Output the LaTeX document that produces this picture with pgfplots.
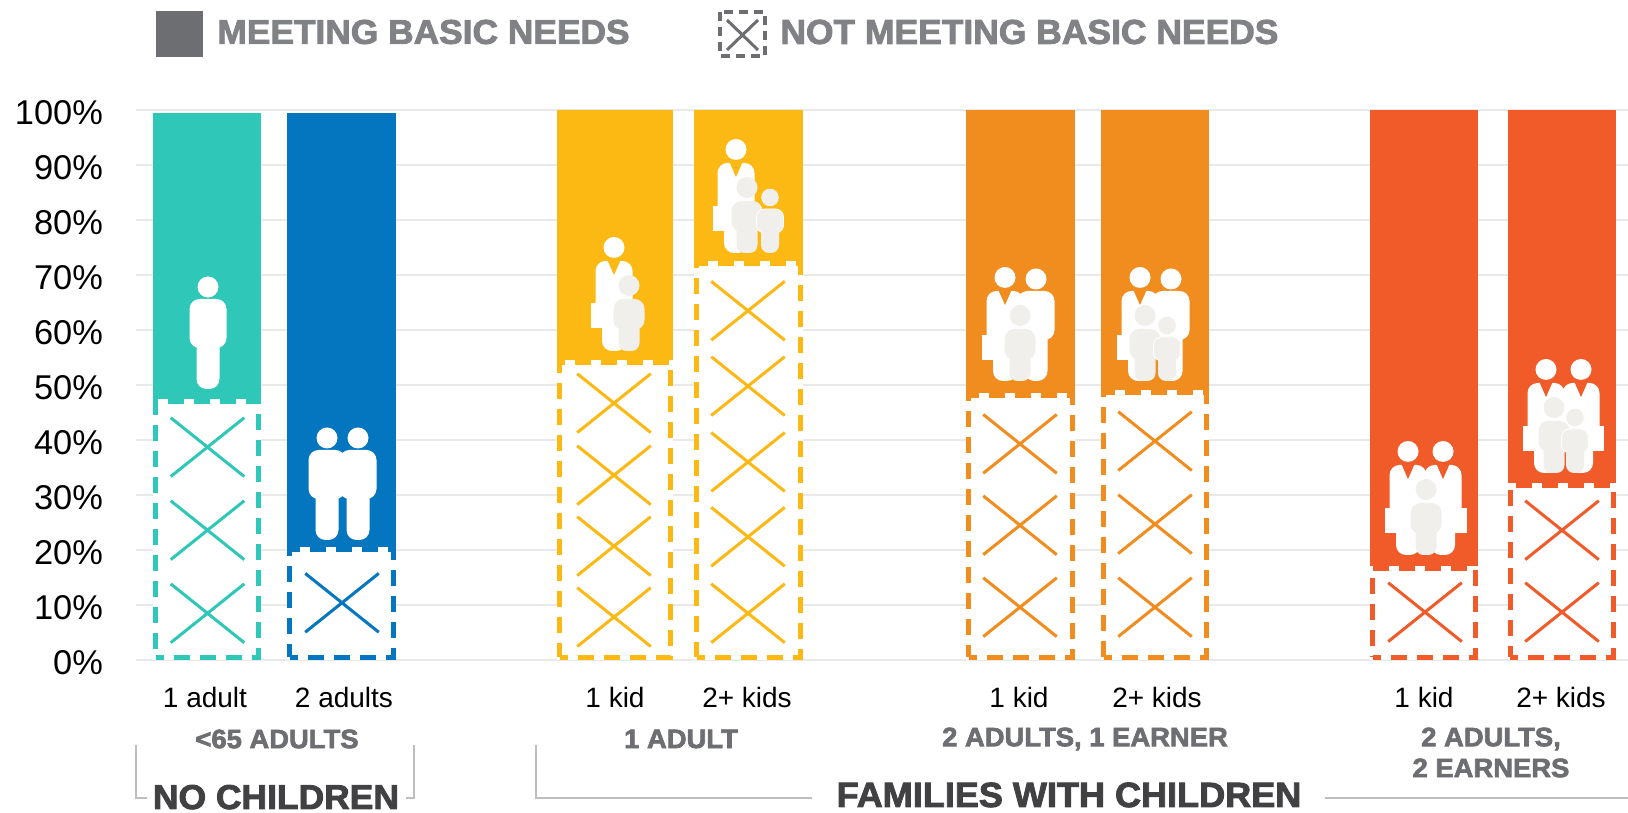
\documentclass[border=0pt]{standalone}
\usepackage{fontspec}
\setmainfont{Liberation Sans}
\newfontfamily\heavy[FakeBold=2.5,FakeStretch=1.03]{Liberation Sans Bold}
\usepackage{pgfplots}
\pgfplotsset{compat=1.18}

\definecolor{cteal}{HTML}{2EC7B8}
\definecolor{cblue}{HTML}{0376BF}
\definecolor{cyellow}{HTML}{FDB913}
\definecolor{corange}{HTML}{F18D1E}
\definecolor{cred}{HTML}{F15A29}
\definecolor{ckid}{HTML}{F1EFEB}
\definecolor{cgrey}{HTML}{6D6E71}
\definecolor{clegend}{HTML}{808285}
\definecolor{cdark}{HTML}{414042}
\definecolor{cbracket}{HTML}{BCBEC0}
\definecolor{cgrid}{HTML}{E9E9E9}

% colour, centre, width in px, meeting top, not-meeting share
\newcommand{\famibar}[5]{%
  \addplot[ybar, bar shift=0pt, bar width=#3*0.5pt, fill=#1, draw=none] coordinates {(#2,#4)};
  \addplot[ybar, bar shift=0pt, bar width=(#3-5)*0.5pt, fill=white, draw=white, line width=2.5pt,
    yshift=1.25pt] coordinates {(#2,#5)};
  \addplot[ybar, bar shift=0pt, bar width=(#3-5)*0.5pt, fill=white, draw=#1, line width=2.5pt,
    dash pattern=on 8pt off 5pt, dash phase=4pt, yshift=1.25pt] coordinates {(#2,#5)};
}
\newcommand{\crosses}[2]{%
  \addplot[only marks, mark=x, mark size=26pt, mark options={yscale=0.8, line width=1.5pt, draw=#1}] coordinates {#2};
}

% icons, in pixel coordinates of the picture
\newcommand{\adult}[2]{%
  \fill[white] (#1,#2+11) ellipse [x radius=10.5, y radius=10.5];
  \fill[white, rounded corners=5pt] (#1-18.5,#2+23) rectangle (#1+18.5,#2+72);
  \fill[white, rounded corners=5pt] (#1-11.5,#2+60) rectangle (#1+11.5,#2+113);
}
\newcommand{\madult}[2]{%
  \fill[white] (#1,#2+10.5) ellipse [x radius=10.5, y radius=10.5];
  \fill[white, rounded corners=5pt] (#1-18.5,#2+24) rectangle (#1+18.5,#2+92);
  \fill[white, rounded corners=5pt] (#1-12,#2+70) rectangle (#1+12,#2+114);
}
\newcommand{\notch}[3]{\fill[#1] (#2-7.5,#3+21) -- (#2+7.5,#3+21) -- (#2,#3+38) -- cycle;}
\newcommand{\kid}[2]{%
  \fill[ckid] (#1,#2-65.5) ellipse [x radius=10.5, y radius=10.5];
  \fill[ckid, rounded corners=5pt] (#1-15.5,#2-52) rectangle (#1+15.5,#2-21);
  \fill[ckid, rounded corners=4pt] (#1-10.5,#2-30) rectangle (#1+10.5,#2);
}
\newcommand{\smallkid}[2]{%
  \fill[ckid] (#1,#2-55.5) ellipse [x radius=8.8, y radius=8.8];
  \filldraw[fill=ckid, draw=white, line width=0.4pt, rounded corners=4pt] (#1-13.5,#2-44) rectangle (#1+13.5,#2-20);
  \fill[ckid, rounded corners=4pt] (#1-9,#2-30) rectangle (#1+9,#2);
}

\begin{document}
\begin{tikzpicture}
\useasboundingbox (-68pt,-76.5pt) rectangle (746pt,330pt);
\begin{axis}[
  scale only axis,
  width=746pt,
  height=275pt,
  xmin=136, xmax=1628,
  ymin=0, ymax=100,
  clip=false,
  axis line style={draw=none},
  major tick length=0pt,
  ytick={0,10,...,100},
  yticklabels={0\%,10\%,20\%,30\%,40\%,50\%,60\%,70\%,80\%,90\%,100\%},
  ymajorgrids,
  grid style={cgrid, line width=1pt},
  xtick={205,344,615,747,1019,1157,1424,1561},
  xticklabels={1 adult,2 adults,1 kid,2+ kids,1 kid,2+ kids,1 kid,2+ kids},
  yticklabel style={font=\fontsize{17.2}{20}\selectfont, xshift=-13pt, yshift=-1.5pt},
  xticklabel style={font=\fontsize{14}{16}\selectfont, yshift=-10pt},
]
\famibar{cteal}{207.5}{108}{99.5}{46.6}
\famibar{cblue}{341.5}{108}{99.5}{19.6}
\famibar{cyellow}{615}{116}{100}{53.7}
\famibar{cyellow}{748.5}{109}{100}{71.6}
\famibar{corange}{1020.5}{109}{100}{47.7}
\famibar{corange}{1155}{108}{100}{48.2}
\famibar{cred}{1424}{108}{100}{16.1}
\famibar{cred}{1561.5}{108}{100}{31.2}
\crosses{cteal}{(207.5,38.7)(207.5,23.6)(207.5,8.5)}
\crosses{cblue}{(342,10.4)}
\crosses{cyellow}{(614,46.7)(614,33.6)(614,20.7)(614,7.8)}
\crosses{cyellow}{(748,63.5)(748,49.8)(748,36)(748,22.4)(748,8.5)}
\crosses{corange}{(1020,39.3)(1020,24.5)(1020,9.6)}
\crosses{corange}{(1155,39.8)(1155,24.7)(1155,9.6)}
\crosses{cred}{(1425,8.7)}
\crosses{cred}{(1562,23.6)(1562,8.7)}
\end{axis}

\begin{scope}[shift={(-68pt,330pt)}, x=0.5pt, y=-0.5pt]
% legend
\fill[cgrey] (156,11) rectangle (203,57);
\node[anchor=west, inner sep=0, text=clegend, font=\fontsize{17.15}{18}\heavy] at (217,32) {MEETING BASIC NEEDS};
\draw[cgrey, line width=2.2pt, dash pattern=on 4.5pt off 3pt] (720,12) rectangle (765,56);
\draw[cgrey, line width=1.5pt] (727,20) -- (758,50) (758,20) -- (727,50);
\node[anchor=west, inner sep=0, text=clegend, font=\fontsize{17.2}{18}\heavy] at (780,32) {NOT MEETING BASIC NEEDS};
% group labels
\begin{scope}[every node/.style={inner sep=0, text=cgrey, font=\fontsize{13.3}{14}\heavy}]
\node at (277,739) {<65 ADULTS};
\node at (681,739) {1 ADULT};
\node at (1085,739) {2 ADULTS, 1 EARNER};
\node at (1491,739) {2 ADULTS,};
\node at (1491,768) {2 EARNERS};
\end{scope}
% brackets
\draw[cbracket, line width=1pt] (147,798) -- (136,798) -- (136,745);
\draw[cbracket, line width=1pt] (406,798) -- (414,798) -- (414,745);
\draw[cbracket, line width=1pt] (812,798) -- (536,798) -- (536,745);
\draw[cbracket, line width=1pt] (1325,798) -- (1628,798);
\node[anchor=base, inner sep=0, text=cdark, font=\fontsize{17.2}{18}\heavy] at (276,809) {NO CHILDREN};
\node[anchor=base, inner sep=0, text=cdark, font=\fontsize{17.5}{18}\heavy] at (1069,807) {FAMILIES WITH CHILDREN};
% icons
\adult{208}{276}
\adult{327}{427}\adult{358}{427}
\fill[white] (591,303) rectangle (602,328);
\madult{614}{237}\notch{cyellow}{614}{237}\kid{629}{351}
\fill[white] (713,206) rectangle (724,231);
\madult{736}{139}\notch{cyellow}{736}{139}\kid{747}{253}\smallkid{770}{253}
\fill[white] (982,335) rectangle (993,360);
\madult{1005}{267}\adult{1036}{268}\notch{corange}{1005}{267}\kid{1020}{381}
\fill[white] (1117,335) rectangle (1128,360);
\madult{1140}{267}\adult{1171}{268}\notch{corange}{1140}{267}\kid{1145}{381}\smallkid{1167}{381}
\fill[white] (1385,508) rectangle (1467,533);
\madult{1408}{441}\madult{1443}{441}\notch{cred}{1408}{441}\notch{cred}{1443}{441}\kid{1426}{555}
\fill[white] (1523,426) rectangle (1604,451);
\madult{1546}{359}\madult{1581}{359}\notch{cred}{1546}{359}\notch{cred}{1581}{359}\kid{1554}{473}\smallkid{1575}{473}
\end{scope}
\end{tikzpicture}
\end{document}
